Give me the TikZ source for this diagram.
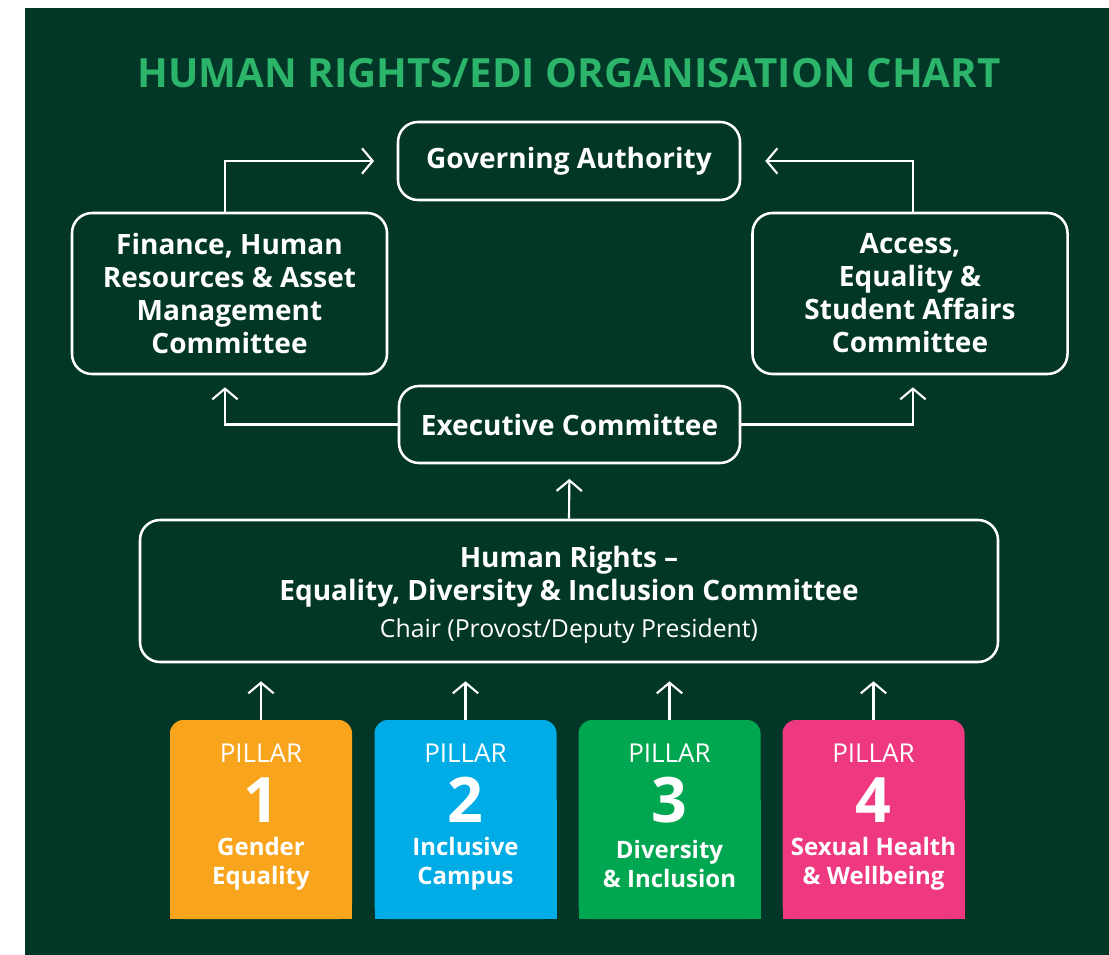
\documentclass[tikz,border=0pt]{standalone}
\usepackage{fontspec}
\setmainfont{Open Sans}
\usetikzlibrary{arrows.meta}
\definecolor{bgdark}{HTML}{023626}
\definecolor{titlegreen}{HTML}{2BB46A}
\definecolor{pilorange}{HTML}{F8A51D}
\definecolor{pilblue}{HTML}{00ACE6}
\definecolor{pilgreen}{HTML}{00A650}
\definecolor{pilpink}{HTML}{EE3880}
\begin{document}
\begin{tikzpicture}[x=0.75pt, y=-0.75pt,
    box/.style={draw=white, line width=1.9pt, rounded corners=15pt, text=white, align=center,
      inner sep=0pt, font=\fontsize{21}{24.75}\selectfont\bfseries},
    link/.style={draw=white, line width=1.6pt, -{Straight Barb[length=8pt,width=19pt]}},
    pillar/.style={rounded corners=10pt, minimum width=136.5pt, minimum height=149.25pt, inner sep=0pt},
    pillartxt/.style={text=white, align=center, inner sep=0pt}]
\useasboundingbox (0,0) rectangle (1109,955);
\fill[bgdark] (24.5,8) rectangle (1109,955);

\node[text=titlegreen, font=\fontsize{30.2}{36}\selectfont\bfseries] (title) at (569,73) {HUMAN RIGHTS/EDI ORGANISATION CHART};

% committees
\node[box, minimum width=256.5pt, minimum height=58.5pt] (gov) at (569,161) {Governing Authority};
\node[box, minimum width=236.25pt, minimum height=120.75pt] (fin) at (229.5,293.5) {Finance, Human\\Resources \& Asset\\Management\\Committee};
\node[box, minimum width=236.25pt, minimum height=120.75pt] (acc) at (910,293.5) {Access,\\Equality \&\\Student Affairs\\Committee};
\node[box, minimum width=255.75pt, minimum height=57.75pt] (exec) at (569.5,424.5) {Executive Committee};
\node[box, minimum width=643.5pt, minimum height=106.5pt] (hr) at (569,591) {\rule{0pt}{21pt}Human Rights --\\Equality, Diversity \& Inclusion Committee\\[3pt]{\fontsize{18.6}{20}\selectfont\mdseries Chair (Provost/Deputy President)}};

\draw[link, shorten >=11pt] (hr.north) -- (exec.south);
\draw[link, shorten >=9pt] (exec.west) -| ([xshift=-3.4pt]fin.south);
\draw[link, shorten >=9pt] (exec.east) -| ([xshift=2.2pt]acc.south);
\draw[link, shorten >=17pt] ([xshift=-3.4pt]fin.north) |- (gov.west);
\draw[link, shorten >=18pt] ([xshift=2.2pt]acc.north) |- (gov.east);

% pillars
\foreach \i/\cx/\col/\name in {1/261/pilorange/{Gender\\Equality}, 2/465.5/pilblue/{Inclusive\\Campus},
    3/669.5/pilgreen/{Diversity\\\& Inclusion}, 4/873.5/pilpink/{Sexual Health\\\& Wellbeing}}{
  \node[pillar, fill=\col] (pil\i) at (\cx,819.5) {};
  \fill[\col] (\cx-91,800) rectangle (\cx+91,919);
  \node[pillartxt, font=\fontsize{19.5}{22}\selectfont] (pil\i-head) at (\cx,753) {PILLAR};
  \node[pillartxt, font=\fontsize{47}{47}\selectfont\bfseries] (pil\i-num) at (\cx,800) {\i};
  \node[pillartxt, font=\fontsize{18}{21.75}\selectfont\bfseries] (pil\i-name) at (\cx,864) {\name};
  \draw[link, shorten >=13.5pt] (pil\i.north) -- (pil\i.north |- hr.south);
}
\end{tikzpicture}
\end{document}
